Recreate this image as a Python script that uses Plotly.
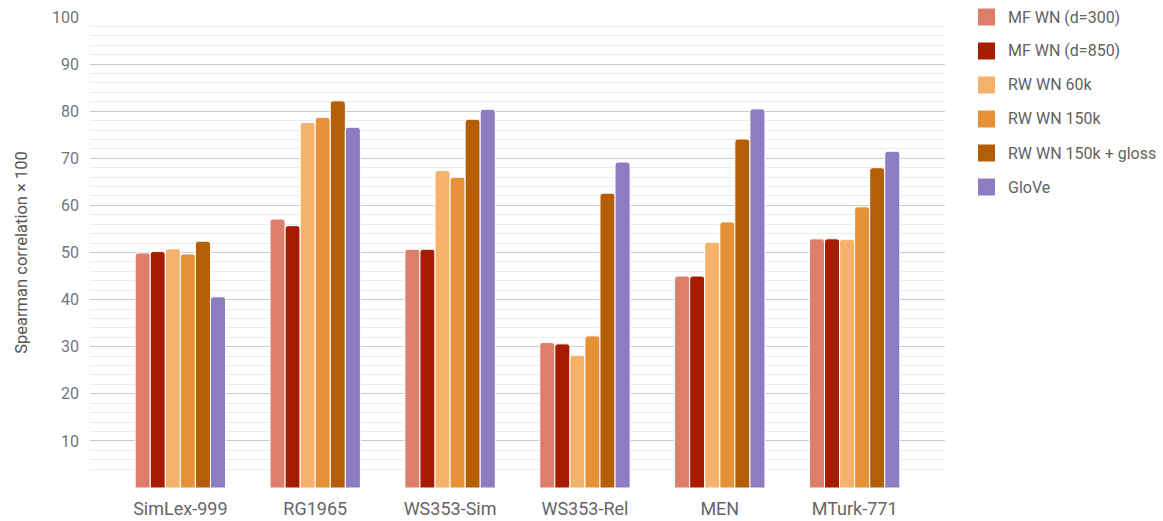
import plotly.graph_objects as go

# Word-similarity benchmarks and Spearman correlation (x100) per embedding model
datasets = ["SimLex-999", "RG1965", "WS353-Sim", "WS353-Rel", "MEN", "MTurk-771"]

mf_wn_300 = [49.9, 57.1, 50.7, 30.9, 45.0, 52.9]
mf_wn_850 = [50.2, 55.7, 50.7, 30.6, 45.0, 52.9]
rw_wn_60k = [50.8, 77.6, 67.4, 28.2, 52.2, 52.8]
rw_wn_150k = [49.7, 78.7, 66.0, 32.3, 56.5, 59.7]
rw_wn_150k_gloss = [52.4, 82.2, 78.3, 62.6, 74.1, 68.0]
glove = [40.6, 76.6, 80.4, 69.2, 80.5, 71.5]

series_names = ["MF WN (d=300)", "MF WN (d=850)", "RW WN 60k", "RW WN 150k",
                "RW WN 150k + gloss", "GloVe"]
series_values = [mf_wn_300, mf_wn_850, rw_wn_60k, rw_wn_150k, rw_wn_150k_gloss, glove]
series_colors = ["#dd7e6b", "#a61c00", "#f6b26b", "#e69138", "#b45f06", "#8e7cc3"]

y_ticks = [10, 20, 30, 40, 50, 60, 70, 80, 90, 100]
y_minor = [v for v in range(4, 100, 2) if v % 10 != 0]

W, H = 1163, 521
M_L, M_R, M_T, M_B = 90, 218, 17, 33
plot_w = W - M_L - M_R
plot_h = H - M_T - M_B

fig = go.Figure()
for name, vals, col in zip(series_names, series_values, series_colors):
    fig.add_trace(go.Bar(
        x=datasets, y=vals, name=name, showlegend=False,
        marker=dict(color=col, line=dict(color="white", width=1), cornerradius=3),
    ))

# Legend drawn as coloured squares with labels to the right of the plot area
def px_x(p):
    return (p - M_L) / plot_w

def px_y(q):
    return (H - M_B - q) / plot_h

for i, (name, col) in enumerate(zip(series_names, series_colors)):
    cy = 17 + 34 * i
    fig.add_shape(type="rect", xref="paper", yref="paper",
                  x0=px_x(978), x1=px_x(995), y0=px_y(cy + 8.5), y1=px_y(cy - 8.5),
                  fillcolor=col, line=dict(width=0), layer="above")
    fig.add_annotation(text=name, xref="paper", yref="paper",
                       x=px_x(1006), y=px_y(cy), xanchor="left", yanchor="middle",
                       showarrow=False, font=dict(size=16, color="#626262"))

fig.update_layout(
    width=W, height=H,
    margin=dict(l=M_L, r=M_R, t=M_T, b=M_B),
    plot_bgcolor="white", paper_bgcolor="white",
    font=dict(family="Roboto", color="#444444"),
    barmode="group", bargap=0.33, bargroupgap=0,
    showlegend=False,
)
fig.update_xaxes(
    range=[-0.67, 5.67], showgrid=False, zeroline=False, showline=False, automargin=False,
    ticks="", tickfont=dict(size=18, color="#666666"), ticklabelstandoff=8,
)
fig.update_yaxes(
    range=[0, 100], tickvals=y_ticks, showgrid=True, gridcolor="#cccccc", gridwidth=1,
    zeroline=False, showline=False, ticks="", automargin=False,
    tickfont=dict(size=16, color="#757575"), ticklabelstandoff=10,
    minor=dict(tickvals=y_minor, showgrid=True, gridcolor="#ebebeb", gridwidth=1),
    title=dict(text="Spearman correlation × 100", font=dict(size=16.5, color="#555555"),
               standoff=20),
)

fig.write_html("out.html")
